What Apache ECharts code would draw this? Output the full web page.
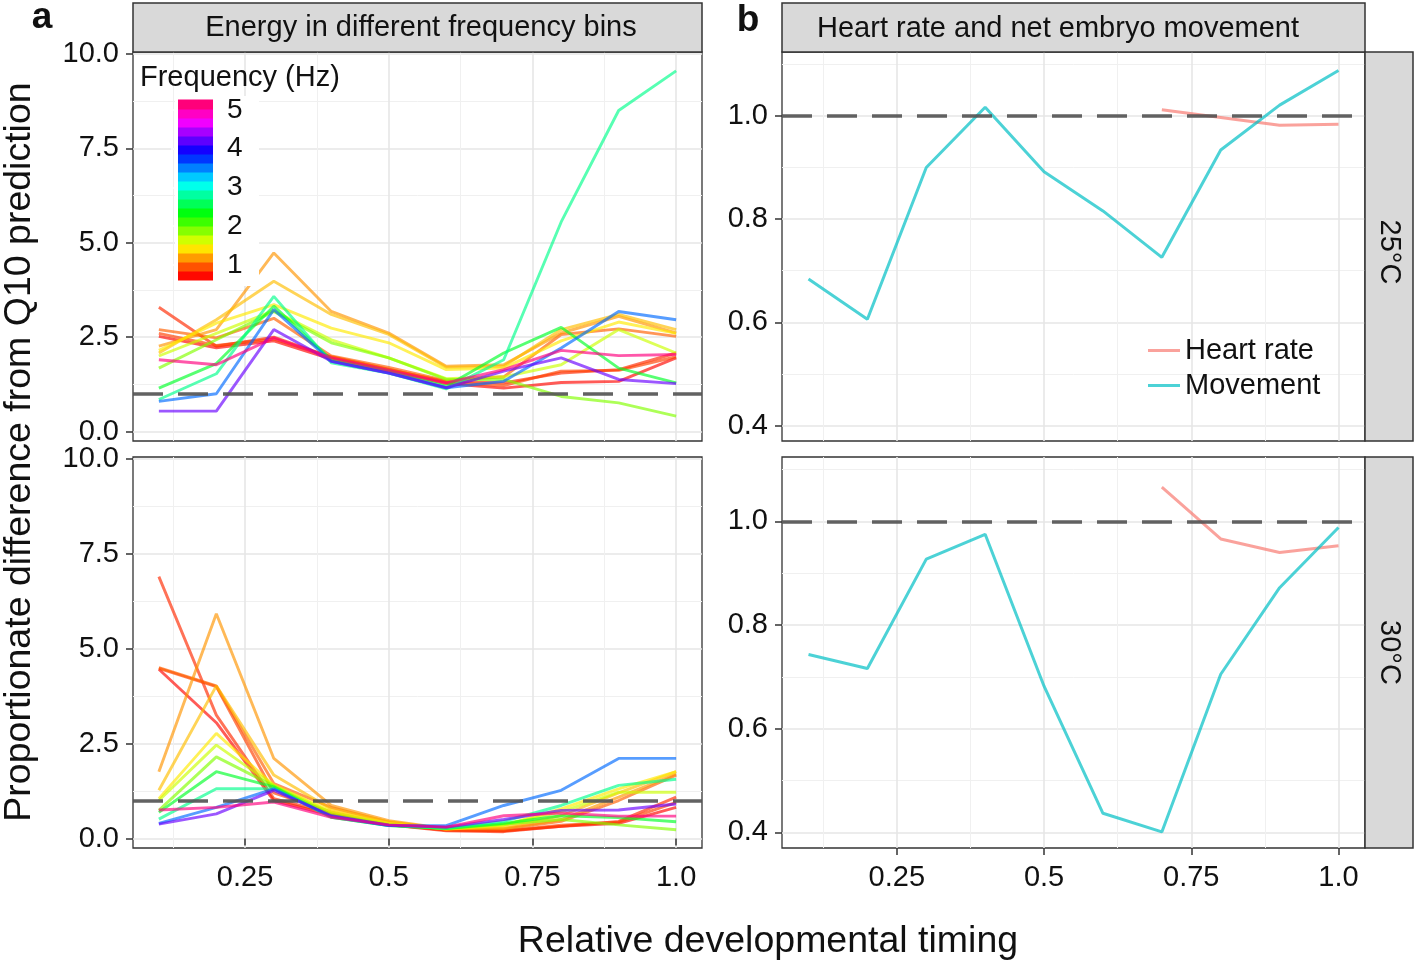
<!DOCTYPE html>
<html><head><meta charset="utf-8">
<script src="https://cdn.jsdelivr.net/npm/echarts@6/dist/echarts.min.js"></script>
<style>html,body{margin:0;padding:0;background:#fff}#c{width:1416px;height:966px}</style>
</head><body><div id="c"></div>
<script>
// ---------------- data ----------------
const timing = [0.1, 0.2, 0.3, 0.4, 0.5, 0.6, 0.7, 0.8, 0.9, 1.0];
const freqHz = [0.72, 0.83, 0.9, 1.0, 1.17, 1.3, 1.44, 1.67, 1.9, 2.44, 2.75, 3.58, 4.25, 5.13];

// 25°C: energy (proportionate difference) per frequency bin
const e25_f072 = [2.52, 2.22, 2.40, 1.92, 1.60, 1.27, 1.15, 1.30, 1.33, 1.95];
const e25_f083 = [3.29, 2.26, 2.50, 1.97, 1.64, 1.33, 1.29, 1.55, 1.64, 2.08];
const e25_f090 = [2.60, 2.28, 2.45, 1.98, 1.65, 1.30, 1.22, 1.60, 1.62, 1.98];
const e25_f100 = [2.70, 2.48, 3.00, 2.00, 1.70, 1.35, 1.45, 2.57, 2.72, 2.52];
const e25_f117 = [2.26, 2.70, 4.73, 3.18, 2.61, 1.73, 1.77, 2.61, 3.05, 2.61];
const e25_f130 = [2.08, 2.96, 3.98, 3.10, 2.57, 1.70, 1.73, 2.70, 3.10, 2.70];
const e25_f144 = [2.15, 2.87, 3.36, 2.74, 2.35, 1.64, 1.68, 2.40, 2.90, 2.60];
const e25_f167 = [2.00, 2.60, 3.20, 2.43, 1.95, 1.40, 1.45, 1.77, 2.70, 2.08];
const e25_f190 = [1.68, 2.43, 3.18, 2.35, 1.95, 1.38, 1.38, 0.93, 0.76, 0.41];
const e25_f244 = [1.15, 1.80, 3.32, 1.90, 1.60, 1.20, 2.08, 2.76, 1.68, 1.29];
const e25_f275 = [0.85, 1.53, 3.58, 1.82, 1.55, 1.13, 1.90, 5.55, 8.50, 9.55];
const e25_f358 = [0.80, 1.00, 3.23, 1.86, 1.55, 1.16, 1.33, 2.21, 3.18, 2.96];
const e25_f425 = [0.54, 0.54, 2.70, 1.86, 1.55, 1.16, 1.60, 1.95, 1.38, 1.27];
const e25_f513 = [1.90, 1.77, 2.48, 1.95, 1.62, 1.29, 1.64, 2.15, 2.01, 2.04];

// 30°C
const e30_f072 = [4.46, 3.05, 1.00, 0.62, 0.36, 0.22, 0.20, 0.32, 0.40, 0.82];
const e30_f083 = [6.90, 3.25, 1.05, 0.66, 0.36, 0.20, 0.18, 0.32, 0.45, 1.09];
const e30_f090 = [4.48, 4.00, 1.20, 0.70, 0.38, 0.22, 0.20, 0.35, 0.43, 0.95];
const e30_f100 = [4.50, 4.02, 1.45, 0.82, 0.43, 0.25, 0.25, 0.45, 1.00, 1.67];
const e30_f117 = [1.76, 5.92, 2.11, 0.87, 0.47, 0.26, 0.26, 0.50, 1.09, 1.70];
const e30_f130 = [1.27, 4.02, 1.67, 0.78, 0.44, 0.25, 0.30, 0.60, 1.20, 1.76];
const e30_f144 = [1.05, 2.77, 1.40, 0.72, 0.40, 0.25, 0.35, 0.78, 1.31, 1.76];
const e30_f167 = [1.00, 2.46, 1.40, 0.68, 0.38, 0.26, 0.36, 0.70, 1.22, 1.22];
const e30_f190 = [0.74, 2.15, 1.38, 0.62, 0.36, 0.26, 0.38, 0.50, 0.36, 0.23];
const e30_f244 = [0.69, 1.76, 1.36, 0.56, 0.34, 0.26, 0.40, 0.60, 0.55, 0.44];
const e30_f275 = [0.51, 1.31, 1.31, 0.56, 0.34, 0.27, 0.45, 0.87, 1.40, 1.56];
const e30_f358 = [0.40, 0.82, 1.31, 0.58, 0.34, 0.34, 0.87, 1.27, 2.11, 2.11];
const e30_f425 = [0.38, 0.65, 1.27, 0.60, 0.35, 0.30, 0.50, 0.74, 0.75, 0.91];
const e30_f513 = [0.75, 0.82, 0.96, 0.56, 0.36, 0.30, 0.60, 0.67, 0.59, 0.59];

// Heart rate and movement
const movement25 = [0.684, 0.606, 0.900, 1.017, 0.892, 0.816, 0.726, 0.934, 1.021, 1.088];
const movement30 = [0.743, 0.716, 0.927, 0.975, 0.682, 0.437, 0.401, 0.705, 0.872, 0.988];
const heartTiming = [0.7, 0.8, 0.9, 1.0];
const heartRate25 = [1.012, 0.997, 0.982, 0.984];
const heartRate30 = [1.066, 0.966, 0.940, 0.953];

// ticks
const xTicks = [0.25, 0.5, 0.75, 1.0];
const xTickLabels = ['0.25', '0.5', '0.75', '1.0'];
const xMinor = [0.125, 0.375, 0.625, 0.875];
const yTicksLeft = [0, 2.5, 5, 7.5, 10];
const yTickLabelsLeft = ['0.0', '2.5', '5.0', '7.5', '10.0'];
const yMinorLeft = [1.25, 3.75, 6.25, 8.75];
const yTicksRight = [0.4, 0.6, 0.8, 1.0];
const yTickLabelsRight = ['0.4', '0.6', '0.8', '1.0'];
const yMinorRight = [0.5, 0.7, 0.9, 1.1];
const legendTicks = [1, 2, 3, 4, 5];
const legendTickLabels = ['1', '2', '3', '4', '5'];
const legendRange = [0.61, 5.26];

// ---------------- helpers ----------------
const FONT = "'Liberation Sans', Arial, Helvetica, sans-serif";
function hueOf(f) {
  let h = 340 * (f - 0.7) / (5.26 - 0.7);
  return Math.max(0, Math.min(350, h));
}
function hsv(h, a) {
  const s = h / 60, i = Math.floor(s) % 6, fr = s - Math.floor(s);
  const q = 1 - fr, t = fr;
  let r, g, b;
  switch (i) {
    case 0: r = 1; g = t; b = 0; break;
    case 1: r = q; g = 1; b = 0; break;
    case 2: r = 0; g = 1; b = t; break;
    case 3: r = 0; g = q; b = 1; break;
    case 4: r = t; g = 0; b = 1; break;
    default: r = 1; g = 0; b = q;
  }
  return 'rgba(' + Math.round(r * 255) + ',' + Math.round(g * 255) + ',' + Math.round(b * 255) + ',' + a + ')';
}
function fmt(vals, labels) {
  return function (v) {
    const k = vals.findIndex(t => Math.abs(t - v) < 1e-9);
    return k >= 0 ? labels[k] : '';
  };
}
const e25Rows = [e25_f072, e25_f083, e25_f090, e25_f100, e25_f117, e25_f130, e25_f144, e25_f167, e25_f190, e25_f244, e25_f275, e25_f358, e25_f425, e25_f513];
const e30Rows = [e30_f072, e30_f083, e30_f090, e30_f100, e30_f117, e30_f130, e30_f144, e30_f167, e30_f190, e30_f244, e30_f275, e30_f358, e30_f425, e30_f513];

// ---------------- layout ----------------
const grids = [
  { left: 133, top: 52, width: 569, height: 389 },
  { left: 133, top: 457, width: 569, height: 391 },
  { left: 782, top: 52, width: 583, height: 389 },
  { left: 782, top: 457, width: 583, height: 391 },
  { left: 178, top: 100, width: 35, height: 180 }
];
const gridOpts = grids.map((g, i) => Object.assign({
  show: i < 4, borderColor: '#333', borderWidth: 1.3, backgroundColor: i < 4 ? '#fff' : 'transparent', containLabel: false
}, g));

const xAxes = [], yAxes = [];
for (let i = 0; i < 4; i++) {
  const bottom = (i === 1 || i === 3);
  const left = i < 2;
  xAxes.push({
    type: 'value', gridIndex: i, min: 0.055, max: 1.045,
    axisLine: { show: false },
    axisTick: { show: bottom, customValues: xTicks, length: 7, lineStyle: { color: '#333', width: 1.5 } },
    axisLabel: { show: bottom, customValues: xTicks, formatter: fmt(xTicks, xTickLabels), fontSize: 29, color: '#111', margin: 15, fontFamily: FONT },
    splitLine: { show: true, lineStyle: { color: '#e6e6e6', width: 1.6 } }
  });
  xAxes.push({
    type: 'value', gridIndex: i, min: 0.055, max: 1.045, position: 'bottom',
    axisLine: { show: false },
    axisTick: { show: false, customValues: xMinor },
    axisLabel: { show: false, customValues: xMinor },
    splitLine: { show: true, lineStyle: { color: '#f0f0f0', width: 1 } }
  });
  const yt = left ? yTicksLeft : yTicksRight;
  const yl = left ? yTickLabelsLeft : yTickLabelsRight;
  const ym = left ? yMinorLeft : yMinorRight;
  const ymin = left ? -0.25 : 0.37;
  const ymax = left ? 10.05 : 1.124;
  yAxes.push({
    type: 'value', gridIndex: i, min: ymin, max: ymax, position: 'left',
    axisLine: { show: false },
    axisTick: { show: true, customValues: yt, length: 7, lineStyle: { color: '#333', width: 1.5 } },
    axisLabel: { show: true, customValues: yt, formatter: fmt(yt, yl), fontSize: 29, color: '#111', margin: 14, fontFamily: FONT },
    splitLine: { show: true, lineStyle: { color: '#e6e6e6', width: 1.6 } }
  });
  yAxes.push({
    type: 'value', gridIndex: i, min: ymin, max: ymax, position: 'left',
    axisLine: { show: false },
    axisTick: { show: false, customValues: ym },
    axisLabel: { show: false, customValues: ym },
    splitLine: { show: true, lineStyle: { color: '#f0f0f0', width: 1 } }
  });
}
// colour-bar axes (index 8)
xAxes.push({ type: 'value', gridIndex: 4, min: 0, max: 1, show: false });
yAxes.push({
  type: 'value', gridIndex: 4, min: legendRange[0], max: legendRange[1], position: 'right', z: 6,
  axisLine: { show: false },
  axisTick: { show: true, inside: true, customValues: legendTicks, length: 7, lineStyle: { color: '#fff', width: 1.5 } },
  axisLabel: { show: true, customValues: legendTicks, formatter: fmt(legendTicks, legendTickLabels), fontSize: 28, color: '#111', margin: 14, fontFamily: FONT },
  splitLine: { show: false }
});

// ---------------- series ----------------
const series = [];
function addEnergy(rows, gi) {
  rows.forEach((vals, k) => {
    series.push({
      type: 'line', name: freqHz[k] + ' Hz', xAxisIndex: gi * 2, yAxisIndex: gi * 2,
      data: timing.map((t, j) => [t, vals[j]]),
      symbol: 'none', silent: true, z: 2,
      lineStyle: { width: 2.9, color: hsv(hueOf(freqHz[k]), 0.66) },
      itemStyle: { color: hsv(hueOf(freqHz[k]), 0.66) }
    });
  });
}
addEnergy(e25Rows, 0);
addEnergy(e30Rows, 1);

const HR_COL = 'rgba(248,118,109,0.68)';
const MV_COL = 'rgba(0,191,196,0.7)';
[[2, heartRate25, movement25], [3, heartRate30, movement30]].forEach(([gi, hr, mv]) => {
  series.push({
    type: 'line', name: 'Heart rate', xAxisIndex: gi * 2, yAxisIndex: gi * 2,
    data: heartTiming.map((t, j) => [t, hr[j]]), symbol: 'none', silent: true, z: 2,
    color: HR_COL, lineStyle: { width: 3, color: HR_COL }
  });
  series.push({
    type: 'line', name: 'Movement', xAxisIndex: gi * 2, yAxisIndex: gi * 2,
    data: timing.map((t, j) => [t, mv[j]]), symbol: 'none', silent: true, z: 2,
    color: MV_COL, lineStyle: { width: 3, color: MV_COL }
  });
});
// reference line at 1 in every panel
for (let gi = 0; gi < 4; gi++) {
  series.push({
    type: 'line', xAxisIndex: gi * 2, yAxisIndex: gi * 2, data: [], z: 4, silent: true,
    markLine: {
      silent: true, symbol: ['none', 'none'], label: { show: false }, animation: false,
      lineStyle: { type: [30, 15], color: 'rgba(85,85,85,0.92)', width: 3.6 },
      data: [{ yAxis: 1 }]
    }
  });
}
// colour bar (legend for frequency)
const nBins = 20;
const legendBins = [];
for (let b = 0; b < nBins; b++) {
  const lo = legendRange[0] + (legendRange[1] - legendRange[0]) * b / nBins;
  const hi = legendRange[0] + (legendRange[1] - legendRange[0]) * (b + 1) / nBins;
  legendBins.push([lo, hi, (lo + hi) / 2]);
}
series.push({
  type: 'custom', xAxisIndex: 8, yAxisIndex: 8, z: 6, silent: true,
  data: legendBins,
  encode: { x: -1, y: [0, 1] },
  renderItem: function (params, api) {
    const lo = api.value(0), hi = api.value(1), mid = api.value(2);
    const p1 = api.coord([0, hi]);
    const p2 = api.coord([1, lo]);
    return {
      type: 'rect',
      shape: { x: p1[0], y: p1[1] - 0.5, width: p2[0] - p1[0], height: p2[1] - p1[1] + 1 },
      style: { fill: hsv(hueOf(mid), 1) }
    };
  }
});

// ---------------- decorations ----------------
function txt(x, y, s, size, opts) {
  return Object.assign({
    type: 'text', x: x, y: y, z: 10,
    style: Object.assign({
      text: s, fontSize: size, fontFamily: FONT, fill: '#111',
      align: 'center', verticalAlign: 'middle', textAlign: 'center', textVerticalAlign: 'middle'
    }, (opts && opts.style) || {})
  }, (opts && opts.el) || {});
}
function strip(x, y, w, h) {
  return { type: 'rect', z: 8, shape: { x: x, y: y, width: w, height: h }, style: { fill: '#d9d9d9', stroke: '#333', lineWidth: 1.5 } };
}
const graphics = [
  strip(133, 3, 569, 49),
  strip(782, 3, 583, 49),
  strip(1365, 52, 48, 389),
  strip(1365, 457, 48, 391),
  txt(421, 28, 'Energy in different frequency bins', 29),
  txt(1058, 29, 'Heart rate and net embryo movement', 29),
  txt(1389, 252, '25°C', 29, { el: { rotation: -Math.PI / 2 } }),
  txt(1389, 652.5, '30°C', 29, { el: { rotation: -Math.PI / 2 } }),
  txt(42, 18, 'a', 37, { style: { fontWeight: 'bold' } }),
  txt(748, 21, 'b', 37, { style: { fontWeight: 'bold' } }),
  txt(20, 452, 'Proportionate difference from Q10 prediction', 37.5, { el: { rotation: Math.PI / 2 } }),
  txt(768, 942, 'Relative developmental timing', 37.5),
  { type: 'rect', z: 3, shape: { x: 175, y: 96, width: 84, height: 190 }, style: { fill: '#fff' } },
  txt(140, 78, 'Frequency (Hz)', 29, { style: { align: 'left', textAlign: 'left' } })
];

const chart = echarts.init(document.getElementById('c'), null, { renderer: 'canvas' });
chart.setOption({
  animation: false,
  backgroundColor: '#fff',
  grid: gridOpts,
  xAxis: xAxes,
  yAxis: yAxes,
  legend: {
    data: ['Heart rate', 'Movement'], orient: 'vertical', left: 1143, top: 331,
    icon: 'rect', itemWidth: 32, itemHeight: 3, itemGap: 6,
    textStyle: { fontSize: 29, color: '#111', fontFamily: FONT, lineHeight: 29 },
    selectedMode: false
  },
  series: series,
  graphic: { elements: graphics }
});
</script></body></html>
